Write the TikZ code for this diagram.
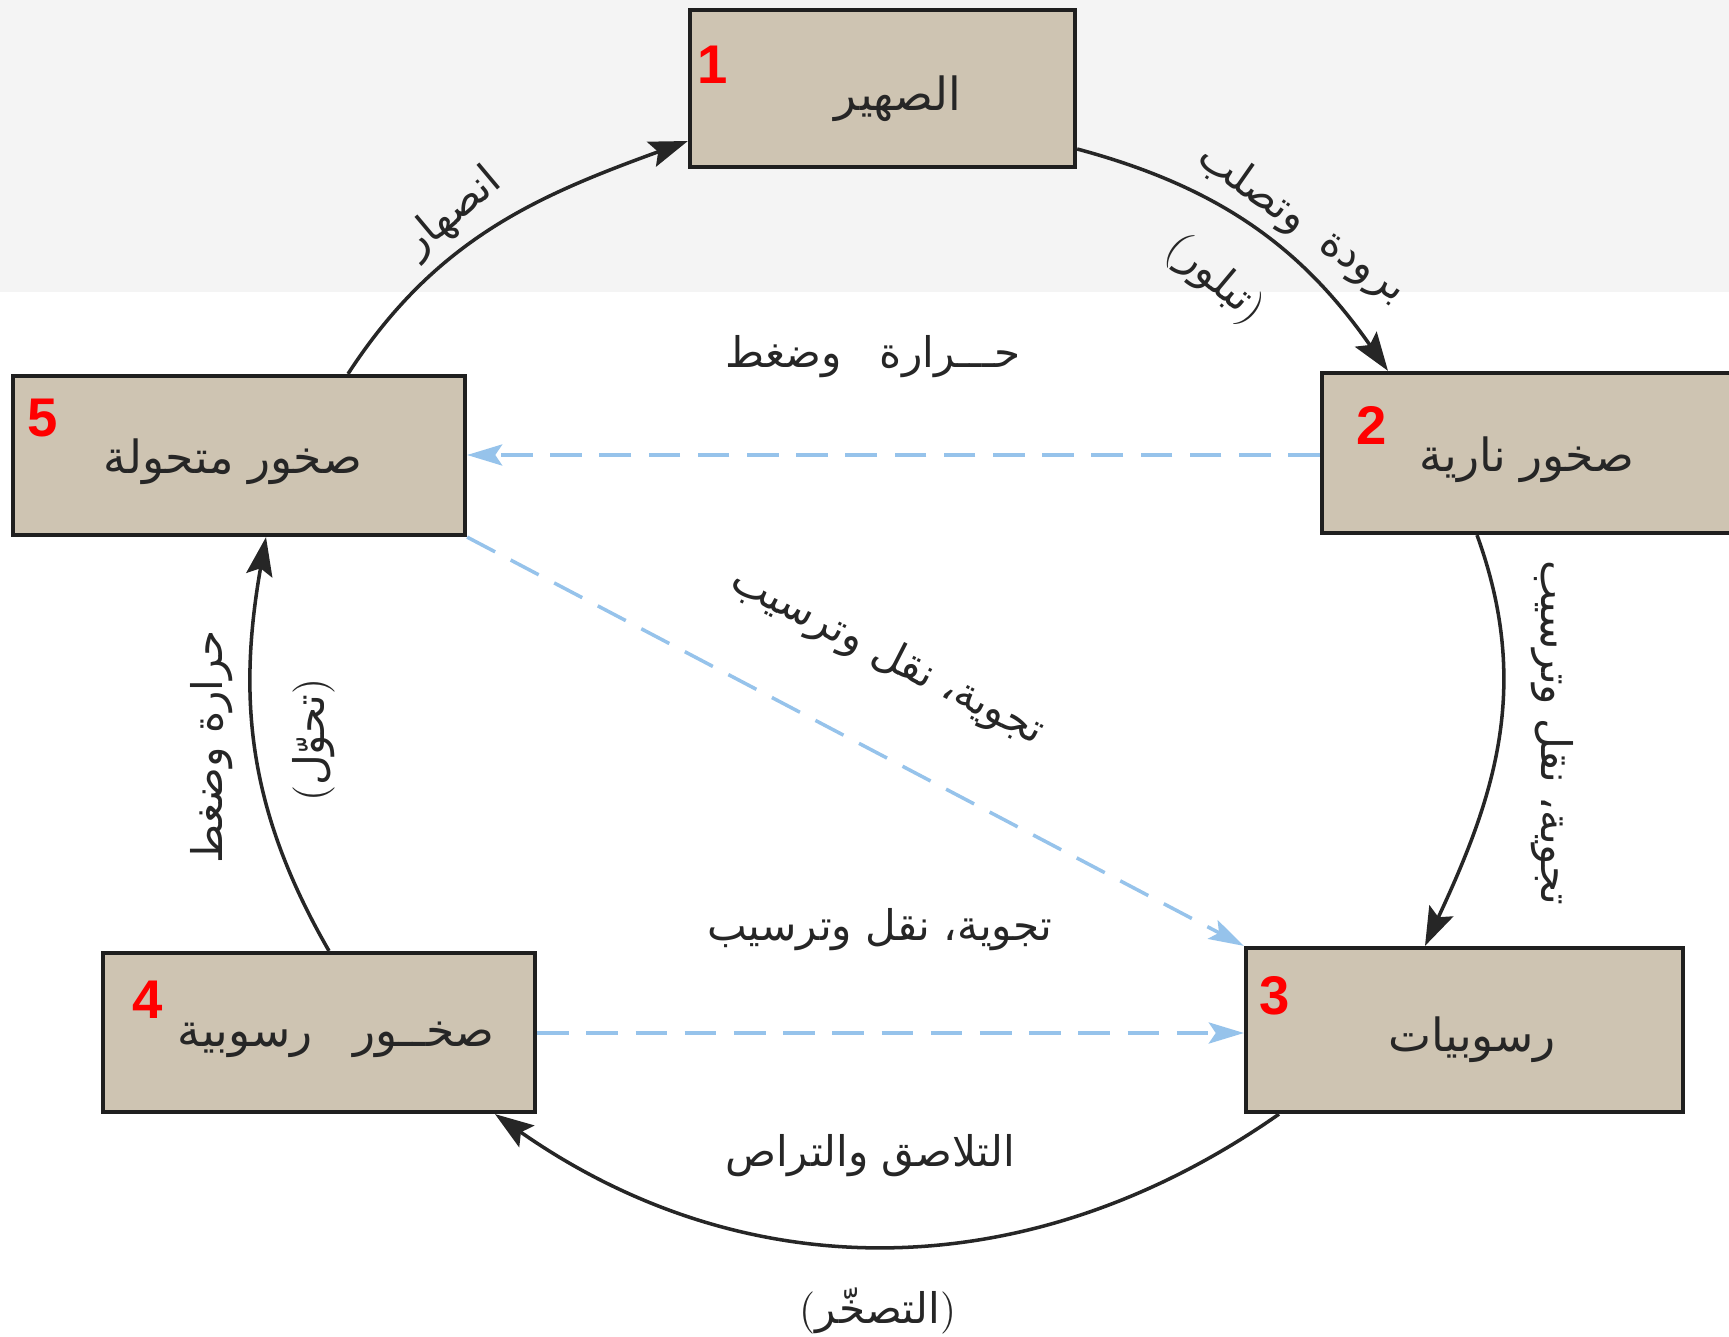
\documentclass[tikz,border=0pt]{standalone}
\usepackage{fontspec}
\newfontfamily\arfont[Script=Arabic]{DejaVu Sans}
\newfontfamily\numfont{Liberation Sans}
\TeXXeTstate=1
\usetikzlibrary{arrows.meta,calc}
\definecolor{boxfill}{RGB}{206,196,178}
\definecolor{dashblue}{RGB}{150,195,235}
\definecolor{numred}{RGB}{255,0,0}
\definecolor{topband}{RGB}{244,244,244}
\newcommand{\AR}[1]{{\arfont\beginR #1\endR}}
\begin{document}
\begin{tikzpicture}[
  rockbox/.style={draw=black!88, line width=1.2pt, fill=boxfill, inner sep=0pt},
  boxtext/.style={font=\fontsize{13}{16}\selectfont, text=black!85, inner sep=1pt},
  lbl/.style={font=\fontsize{12}{15}\selectfont, text=black!85, inner sep=1pt},
  num/.style={font=\numfont\bfseries\fontsize{15.5}{18}\selectfont, text=numred, inner sep=0pt},
  cyc/.style={draw=black!85, line width=1pt, -{Stealth[length=11pt,width=7.5pt,inset=2pt]}},
  dsh/.style={draw=dashblue, line width=1pt, dash pattern=on 9pt off 5pt, -{Stealth[length=10pt,width=6pt,inset=2pt]}}
]
\clip (0,0) rectangle (17.29,-13.37);
\fill[white] (0,0) rectangle (17.29,-13.37);
\fill[topband] (0,0) rectangle (17.29,-2.92);

% boxes
\node[rockbox, minimum width=3.85cm, minimum height=1.57cm] (b1) at (8.825,-0.885) {};
\node[rockbox, minimum width=4.38cm, minimum height=1.60cm] (b2) at (15.41,-4.53) {};
\node[rockbox, minimum width=4.37cm, minimum height=1.64cm] (b3) at (14.645,-10.30) {};
\node[rockbox, minimum width=4.32cm, minimum height=1.59cm] (b4) at (3.19,-10.325) {};
\node[rockbox, minimum width=4.52cm, minimum height=1.59cm] (b5) at (2.39,-4.555) {};

% box texts
\node[boxtext] (t1) at (8.98,-0.99) {\AR{الصهير}};
\node[boxtext] (t2) at (15.27,-4.60) {\AR{صخور نارية}};
\node[boxtext] (t3) at (14.72,-10.40) {\AR{رسوبيات}};
\node[boxtext] (t4) at (3.36,-10.40) {\AR{صخــور\hspace{0.9em}رسوبية}};
\node[boxtext] (t5) at (2.33,-4.62) {\AR{صخور متحولة}};

% numbers
\node[num] (n1) at (7.13,-0.65) {1};
\node[num] (n2) at (13.72,-4.25) {2};
\node[num] (n3) at (12.75,-9.96) {3};
\node[num] (n4) at (1.48,-10.00) {4};
\node[num] (n5) at (0.43,-4.18) {5};

% cycle arcs
\coordinate (s51) at (3.48,0 |- b5.north);
\coordinate (e51) at (b1.west |- 0,-1.41);
\coordinate (s12) at (b1.east |- 0,-1.49);
\coordinate (e12) at (13.88,0 |- b2.north);
\coordinate (s23) at (14.77,0 |- b2.south);
\coordinate (e23) at (14.25,0 |- b3.north);
\coordinate (s34) at (12.79,0 |- b3.south);
\coordinate (e34) at (4.95,0 |- b4.south);
\coordinate (s45) at (3.29,0 |- b4.north);
\coordinate (e45) at (2.66,0 |- b5.south);

\draw[cyc] (s51) to[out=57,in=200] (e51);
\draw[cyc] (s12) to[out=-15,in=125] (e12);
\draw[cyc] (s23) to[out=-70,in=65] (e23);
\draw[cyc] (s34) to[out=-145,in=-35] (e34);
\draw[cyc] (s45) to[out=120,in=-100] (e45);

% dashed blue arrows
\draw[dsh] (b2.west |- 0,-4.55) -- (b5.east |- 0,-4.55);
\draw[dsh] (b5.south east) -- (b3.north west);
\draw[dsh] (b4.east |- 0,-10.33) -- (b3.west |- 0,-10.33);

% labels on arcs
\node[lbl, rotate=40] (l51) at (4.53,-2.13) {\AR{انصهار}};
\node[lbl, rotate=-35] (l12a) at (13.02,-2.24) {\AR{برودة\hspace{0.6em}وتصلب}};
\node[lbl, rotate=-40] (l12b) at (12.15,-2.80) {(\AR{تبلور})};
\node[lbl, rotate=-90] (l23) at (15.52,-7.33) {\AR{تجوية، نقل وترسيب}};
\node[lbl, rotate=90] (l45a) at (2.12,-7.47) {\AR{حرارة وضغط}};
\node[lbl, rotate=90] (l45b) at (3.14,-7.40) {(\AR{تحوّل})};
\node[lbl] (l34a) at (8.70,-11.56) {\AR{التلاصق\hspace{0.3em}والتراص}};
\node[lbl] (l34b) at (8.78,-13.11) {(\AR{التصخّر})};

% labels on dashed arrows
\node[lbl] (l25) at (8.73,-3.57) {\AR{حـــرارة\hspace{0.9em}وضغط}};
\node[lbl, rotate=-27] (l53) at (8.87,-6.57) {\AR{تجوية، نقل وترسيب}};
\node[lbl] (l43) at (8.80,-9.30) {\AR{تجوية، نقل وترسيب}};
\end{tikzpicture}
\end{document}
